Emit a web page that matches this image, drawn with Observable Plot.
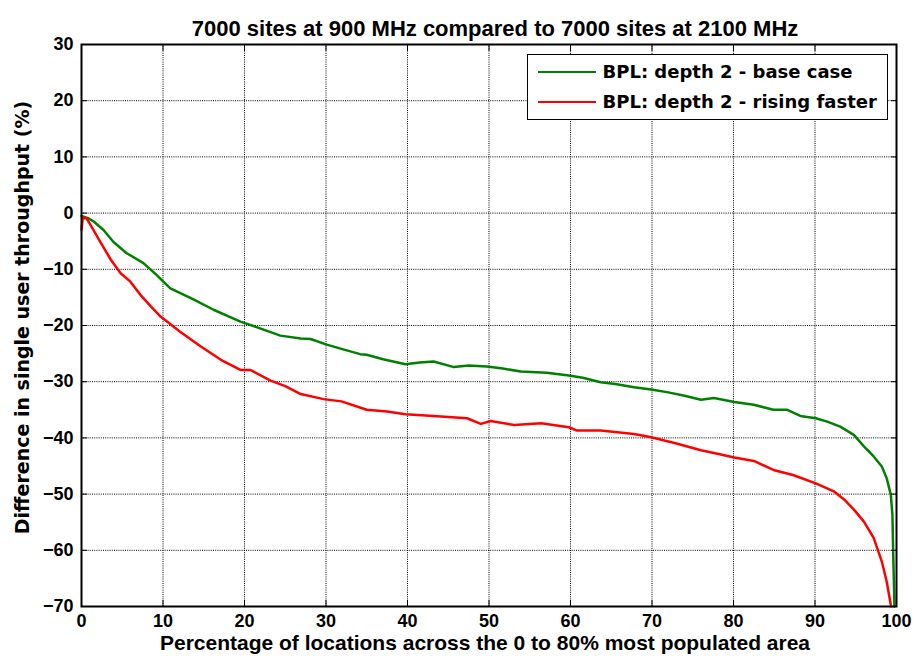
<!DOCTYPE html>
<html>
<head>
<meta charset="utf-8">
<script src="https://cdn.jsdelivr.net/npm/d3@7"></script>
<script src="https://cdn.jsdelivr.net/npm/@observablehq/plot@0.6"></script>
<style>
  body { margin: 0; background: #fff; }
  #wrap { position: relative; width: 915px; height: 663px; background: #fff; }
  #legend { position: absolute; left: 527px; top: 54px; width: 359px; height: 64px;
            border: 1.5px solid #000; background: #fff;
            font: bold 18px "DejaVu Sans", sans-serif; color: #000; }
  .row { position: absolute; left: 0; height: 30px; display: flex; align-items: center; white-space: nowrap; }
  .sw { width: 58px; height: 0; border-top: 2.5px solid; margin-left: 9.5px; margin-right: 7px; }
</style>
</head>
<body>
<div id="wrap"></div>
<script>
// ---- text ----
const titleText = "7000 sites at 900 MHz compared to 7000 sites at 2100 MHz";
const xLabelText = "Percentage of locations across the 0 to 80% most populated area";
const yLabelText = "Difference in single user throughput (%)";
const seriesNames = ["BPL: depth 2 - base case", "BPL: depth 2 - rising faster"];
const seriesColors = ["#008000", "#ff0000"];

// ---- ticks ----
const xTicks = [0, 10, 20, 30, 40, 50, 60, 70, 80, 90, 100];
const yTicks = [-70, -60, -50, -40, -30, -20, -10, 0, 10, 20, 30];

// ---- series: base case (green) ----
const greenX = [0, 0.8, 1.5, 2.7, 3.9, 5.5, 7.6, 9.2, 10.9, 13.8, 16.2, 19.5, 21.9, 24.4, 26.9, 28.1,
  30.1, 32, 34.2, 35, 37, 39.75, 41.5, 43.2, 45.7, 47.5, 49.7, 51.5, 53.9, 57.1, 59.8, 61.5, 63.7,
  65.5, 67.8, 69.9, 72, 74, 76, 77.6, 80.1, 82.5, 84.9, 86.6, 88.2, 90.1, 91.5, 93.1, 94.8, 96.0,
  97.2, 98.2, 98.8, 99.3, 99.5, 99.6, 99.75];
const greenY = [-0.5, -0.9, -1.5, -3.0, -5.1, -7.1, -8.9, -11.0, -13.4, -15.4, -17.2, -19.3, -20.5, -21.8, -22.3, -22.4,
  -23.4, -24.2, -25.1, -25.2, -26.0, -26.9, -26.6, -26.4, -27.4, -27.1, -27.3, -27.6, -28.2, -28.4, -28.9, -29.3, -30.1,
  -30.4, -31.0, -31.4, -31.9, -32.5, -33.2, -32.9, -33.6, -34.1, -35.0, -35.0, -36.1, -36.5, -37.1, -38.0, -39.5, -41.5,
  -43.3, -45.1, -47.2, -50.1, -53.7, -60.8, -70];

// ---- series: rising faster (red) ----
const redX = [0, 0.15, 0.6, 1.1, 2.3, 3.6, 4.8, 6.0, 7.2, 8.5, 9.7, 12.1, 14.6, 17.1, 19.5, 20.7, 23.2, 25,
  26.9, 29.7, 31.9, 35, 37.5, 39.75, 43.2, 47.3, 49, 50.2, 53.1, 56.4, 59.8, 60.8, 63.7, 67.8, 69.9, 73,
  76, 77.6, 80.1, 82.5, 84.9, 87.3, 90.1, 92.3, 93.6, 94.8, 96.0, 97.2, 98.2, 98.8, 99.3, 99.35];
const redY = [-3.0, -0.8, -0.9, -2.1, -5.1, -8.3, -10.7, -12.2, -14.5, -16.6, -18.4, -21.1, -23.7, -26.1, -27.9, -27.9, -29.8, -30.8,
  -32.2, -33.1, -33.5, -35.0, -35.3, -35.8, -36.1, -36.5, -37.5, -37.0, -37.7, -37.4, -38.1, -38.7, -38.7, -39.3, -39.9, -41.0,
  -42.2, -42.7, -43.5, -44.1, -45.7, -46.6, -48.1, -49.5, -51.0, -52.8, -54.9, -57.8, -62.0, -65.6, -69.7, -70];

const green = greenX.map((x, i) => ({x, y: greenY[i]}));
const red = redX.map((x, i) => ({x, y: redY[i]}));

const gridStyle = {stroke: "#000", strokeOpacity: 1, strokeWidth: 1, strokeDasharray: "1,1.2"};
const blank = () => "";
const sans = "'Liberation Sans', Arial, sans-serif";

const chart = Plot.plot({
  width: 915,
  height: 663,
  marginLeft: 81,
  marginRight: 19,
  marginTop: 44,
  marginBottom: 57,
  style: {fontFamily: sans, fontWeight: "bold", fontSize: "18px", color: "#000", background: "#fff", overflow: "visible"},
  x: {domain: [0, 100], ticks: xTicks, label: null},
  y: {domain: [-70, 30], ticks: yTicks, label: null},
  marks: [
    Plot.gridX(xTicks.slice(1, -1), gridStyle),
    Plot.gridY(yTicks.slice(1, -1), gridStyle),
    Plot.line(green, {x: "x", y: "y", stroke: seriesColors[0], strokeWidth: 2.5}),
    Plot.line(red, {x: "x", y: "y", stroke: seriesColors[1], strokeWidth: 2.5}),
    Plot.frame({stroke: "#000", strokeWidth: 2}),
    Plot.axisX(xTicks, {anchor: "bottom", tickSize: 0, tickPadding: 8, fontSize: 18, fontWeight: "bold", fontFamily: sans, label: null}),
    Plot.axisY(yTicks, {anchor: "left", tickSize: 0, tickPadding: 8, fontSize: 18, fontWeight: "bold", fontFamily: sans, label: null}),
    Plot.axisX(xTicks, {anchor: "bottom", tickSize: -6, tickFormat: blank, label: null}),
    Plot.axisX(xTicks, {anchor: "top", tickSize: -6, tickFormat: blank, label: null}),
    Plot.axisY(yTicks, {anchor: "left", tickSize: -6, tickFormat: blank, label: null}),
    Plot.axisY(yTicks, {anchor: "right", tickSize: -6, tickFormat: blank, label: null}),
    Plot.text([titleText], {text: d => d, frameAnchor: "top", dy: -24, dx: 6, fontSize: 22, fontWeight: "bold"}),
    Plot.text([xLabelText], {text: d => d, frameAnchor: "bottom", dy: 43, dx: -4, fontSize: 21, fontWeight: "bold"}),
    Plot.text([yLabelText], {text: d => d, frameAnchor: "left", textAnchor: "middle", rotate: -90, dx: -59, dy: -8, fontSize: 19, fontWeight: "bold", fontFamily: "'DejaVu Sans', sans-serif"})
  ]
});

const wrap = document.getElementById("wrap");
wrap.appendChild(chart);

// legend
const legend = document.createElement("div");
legend.id = "legend";
seriesNames.forEach((name, i) => {
  const row = document.createElement("div");
  row.className = "row";
  row.style.top = (1.5 + 30 * i) + "px";
  const sw = document.createElement("span");
  sw.className = "sw";
  sw.style.borderTopColor = seriesColors[i];
  const tx = document.createElement("span");
  tx.textContent = name;
  row.appendChild(sw);
  row.appendChild(tx);
  legend.appendChild(row);
});
wrap.appendChild(legend);
</script>
</body>
</html>
